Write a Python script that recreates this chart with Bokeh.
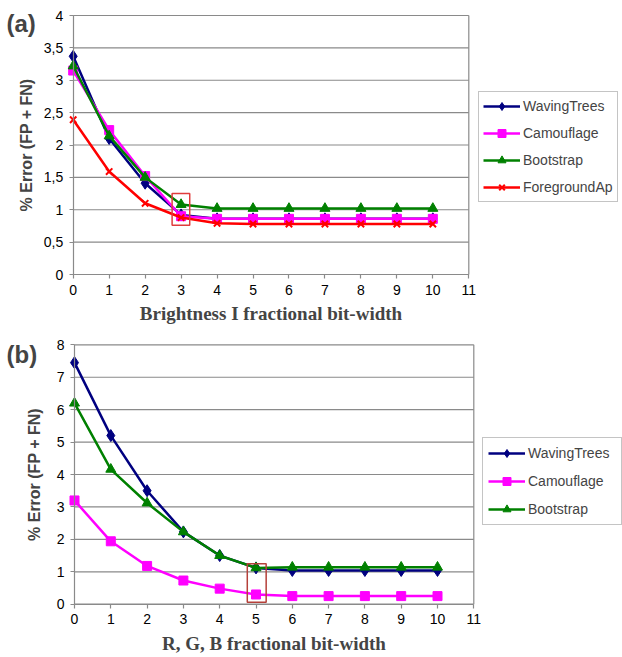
from bokeh.plotting import figure
from bokeh.models import Range1d, Legend, LegendItem, FixedTicker, Label
from bokeh.layouts import column
from bokeh.embed import file_html
from bokeh.resources import INLINE

# ---------------- data ----------------
bits = [0, 1, 2, 3, 4, 5, 6, 7, 8, 9, 10]

a_waving = [3.37, 2.10, 1.41, 0.92, 0.86, 0.86, 0.86, 0.86, 0.86, 0.86, 0.86]
a_camouflage = [3.15, 2.23, 1.52, 0.90, 0.86, 0.86, 0.86, 0.86, 0.86, 0.86, 0.86]
a_bootstrap = [3.22, 2.14, 1.50, 1.08, 1.02, 1.02, 1.02, 1.02, 1.02, 1.02, 1.02]
a_foreground = [2.39, 1.59, 1.10, 0.88, 0.79, 0.78, 0.78, 0.78, 0.78, 0.78, 0.78]

b_waving = [7.45, 5.20, 3.50, 2.23, 1.50, 1.12, 1.04, 1.04, 1.04, 1.04, 1.04]
b_camouflage = [3.20, 1.94, 1.18, 0.73, 0.48, 0.30, 0.25, 0.25, 0.25, 0.25, 0.25]
b_bootstrap = [6.20, 4.16, 3.12, 2.23, 1.50, 1.12, 1.14, 1.14, 1.14, 1.14, 1.14]

x_ticks = [0, 1, 2, 3, 4, 5, 6, 7, 8, 9, 10, 11]
a_y_ticks = [0, 0.5, 1, 1.5, 2, 2.5, 3, 3.5, 4]
a_y_labels = ["0", "0,5", "1", "1,5", "2", "2,5", "3", "3,5", "4"]
b_y_ticks = [0, 1, 2, 3, 4, 5, 6, 7, 8]
b_y_labels = ["0", "1", "2", "3", "4", "5", "6", "7", "8"]

# highlighted selection boxes (x0, x1, y0, y1)
a_box = [2.75, 3.24, 0.76, 1.25]
b_box = [4.76, 5.28, 0.06, 1.25]

SANS = "Liberation Sans"
SERIF = "Liberation Serif"
GRAY = "#8a8a8a"
W = 622


def make_fig(height, px_left, px_right, px_top, px_bottom, yticks, ylabels, xlabel,
             ylabel_standoff):
    """px_*: pixel positions (within this figure) of the plot box corners."""
    xmax = x_ticks[-1]
    ymax = yticks[-1]
    kx = (px_right - px_left) / xmax
    ky = (px_bottom - px_top) / ymax
    p = figure(width=W, height=height, output_backend="svg", toolbar_location=None,
               x_range=Range1d(-px_left / kx, (W - px_left) / kx),
               y_range=Range1d(-(height - px_bottom) / ky, ymax + px_top / ky),
               min_border_top=0, min_border_bottom=0,
               min_border_left=0, min_border_right=0)
    p.title.visible = False
    p.background_fill_color = "white"
    p.border_fill_color = "white"
    p.outline_line_color = None
    p.xgrid.visible = False
    p.ygrid.visible = False

    # horizontal grid lines and right frame edge, limited to the plot box
    n = len(yticks)
    p.segment(x0=[x_ticks[0]] * n, x1=[xmax] * n, y0=yticks, y1=yticks,
              line_color=GRAY, line_width=1.2, level="underlay")
    p.segment(x0=[xmax], x1=[xmax], y0=[yticks[0]], y1=[ymax],
              line_color=GRAY, line_width=1.2, level="underlay")

    p.xaxis.fixed_location = 0
    p.yaxis.fixed_location = 0
    p.xaxis.bounds = (x_ticks[0], xmax)
    p.yaxis.bounds = (yticks[0], ymax)
    p.xaxis.ticker = FixedTicker(ticks=x_ticks)
    p.yaxis.ticker = FixedTicker(ticks=yticks)
    p.yaxis.major_label_overrides = {t: l for t, l in zip(yticks, ylabels)}
    for ax in (p.xaxis[0], p.yaxis[0]):
        ax.axis_line_color = GRAY
        ax.axis_line_width = 1.2
        ax.major_tick_line_color = GRAY
        ax.major_tick_line_width = 1.2
        ax.major_tick_in = 0
        ax.major_tick_out = 4
        ax.minor_tick_line_color = None
        ax.major_label_text_font = SANS
        ax.major_label_text_font_size = "14px"
        ax.major_label_text_color = "black"
        ax.major_label_standoff = 6
    p.yaxis.axis_label = "% Error (FP + FN)"
    p.yaxis.axis_label_text_font = SANS
    p.yaxis.axis_label_text_font_style = "bold"
    p.yaxis.axis_label_text_font_size = "16px"
    p.yaxis.axis_label_standoff = ylabel_standoff
    p.xaxis.axis_label = xlabel
    p.xaxis.axis_label_text_font = SERIF
    p.xaxis.axis_label_text_font_style = "bold"
    p.xaxis.axis_label_text_font_size = "19px"
    p.xaxis.axis_label_standoff = 5
    return p


def add_series(p, ys, color, marker, size, name):
    r_line = p.line(bits, ys, line_color=color, line_width=2.5)
    r_mark = p.scatter(bits, ys, marker=marker, size=size, fill_color=color,
                       line_color=color, line_width=2 if marker == "x" else 1)
    return LegendItem(label=name, renderers=[r_line, r_mark])


def make_legend(items, loc, spacing, padding, label_width):
    legend = Legend(items=items, location=loc)
    legend.label_text_font = SANS
    legend.label_text_font_size = "14px"
    legend.glyph_width = 37
    legend.glyph_height = 20
    legend.label_height = 20
    legend.label_width = label_width
    legend.label_standoff = 3
    legend.spacing = spacing
    legend.padding = padding
    legend.margin = 0
    legend.border_line_color = GRAY
    legend.border_line_width = 1.2
    legend.background_fill_color = "white"
    legend.background_fill_alpha = 1.0
    return legend


def add_tag(p, text, sx, sy):
    p.add_layout(Label(x=sx, y=sy, x_units="screen", y_units="screen", text=text,
                       text_font=SANS, text_font_style="bold", text_font_size="24px",
                       text_baseline="top", text_align="left"))


# ---------------- (a) ----------------
H1 = 328
p1 = make_fig(H1, 72.7, 468.3, 15, 274, a_y_ticks, a_y_labels,
              "Brightness I fractional bit-width", 6)
items_a = [
    add_series(p1, a_waving, "#000080", "diamond", 12, "WavingTrees"),
    add_series(p1, a_camouflage, "#FF00FF", "square", 9, "Camouflage"),
    add_series(p1, a_bootstrap, "#008000", "triangle", 10, "Bootstrap"),
    add_series(p1, a_foreground, "#FF0000", "x", 9, "ForegroundAp"),
]
p1.quad(left=[a_box[0]], right=[a_box[1]], bottom=[a_box[2]], top=[a_box[3]],
        fill_color=None, line_color="#E03C3C", line_width=1.5)
p1.add_layout(make_legend(items_a, (478, H1 - 202), 7, 4, 20))
add_tag(p1, "(a)", 6, H1 - 9)

# ---------------- (b) ----------------
H2 = 329
p2 = make_fig(H2, 74, 473.3, 16.3, 275.7, b_y_ticks, b_y_labels,
              "R, G, B fractional bit-width", 11)
items_b = [
    add_series(p2, b_waving, "#000080", "diamond", 12, "WavingTrees"),
    add_series(p2, b_camouflage, "#FF00FF", "square", 9, "Camouflage"),
    add_series(p2, b_bootstrap, "#008000", "triangle", 10, "Bootstrap"),
]
p2.quad(left=[b_box[0]], right=[b_box[1]], bottom=[b_box[2]], top=[b_box[3]],
        fill_color=None, line_color="#B5403A", line_width=1.5)
p2.add_layout(make_legend(items_b, (482, H2 - 197), 8, 5, 88))
add_tag(p2, "(b)", 6, H2 - 12)

layout = column(p1, p2, spacing=0)
open("out.html", "w").write(file_html(layout, INLINE))
